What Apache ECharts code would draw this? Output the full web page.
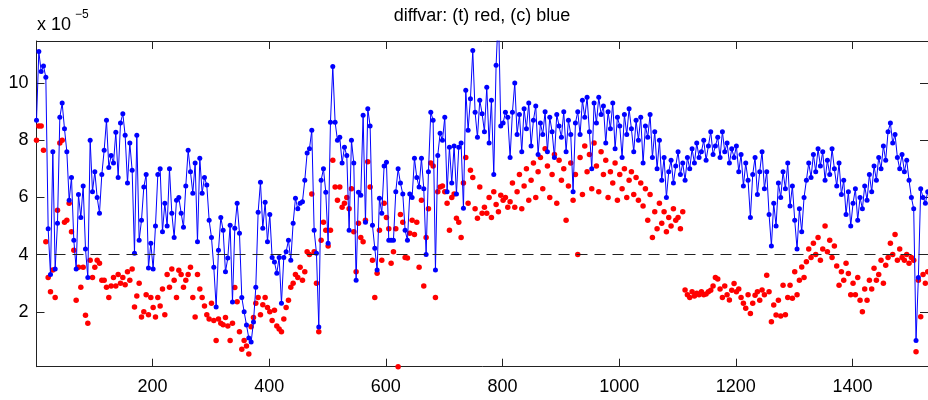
<!DOCTYPE html>
<html><head><meta charset="utf-8">
<script src="https://cdn.jsdelivr.net/npm/echarts@6/dist/echarts.min.js"></script>
<style>html,body{margin:0;padding:0;background:#fff}#c{width:928px;height:400px}</style>
</head><body><div id="c"></div>
<script>
// sample positions: x = xStart + xStep * index
const xStart = 1, xStep = 4;

// (c) blue series, units of 1e-5
const blueC = [
  8.7, 11.1, 10.4, 10.6, 10.2, 4.9, 3.3, 7.6, 3.5, 5.1, 8.8, 9.3, 8.4, 7.6, 5.9, 6.7, 4.5, 3.5, 6.1, 5.3, 6.4, 4.2, 3.2, 8.0, 6.2,
  6.9, 6.0, 5.45, 6.8, 7.65, 8.7, 7.05, 7.47, 7.2, 8.28, 6.7, 8.6, 8.93, 8.17, 6.5, 7.9, 6.95, 4.05, 8.17, 4.5, 5.2, 6.36, 6.8, 3.53, 4.4,
  3.5, 5.0, 6.8, 7.0, 4.8, 5.8, 5.0, 7.0, 5.45, 4.6, 5.9, 6.0, 5.45, 4.96, 6.4, 7.65, 6.9, 6.15, 7.2, 4.45, 7.37, 6.15, 6.7, 6.43, 5.2,
  4.6, 3.56, 2.17, 4.15, 5.3, 4.85, 3.4, 3.88, 5.03, 2.34, 4.92, 5.8, 4.75, 2.5, 2.0, 1.54, 1.08, 0.94, 1.64, 2.86, 5.48, 6.53, 4.92, 5.83, 4.45,
  5.4, 3.9, 3.74, 3.35, 3.9, 2.3, 3.9, 4.1, 4.5, 3.8, 5.1, 5.97, 5.6, 5.8, 5.85, 6.6, 7.55, 7.7, 8.35, 4.85, 4.05, 1.47, 6.6, 7.0, 6.18,
  4.4, 8.63, 10.58, 8.63, 8.0, 8.1, 7.2, 7.75, 7.47, 4.85, 8.0, 7.2, 3.1, 6.18, 6.08, 8.87, 5.13, 9.1, 8.5, 5.03, 4.22, 3.46, 5.97, 5.45, 7.1,
  7.23, 4.5, 4.5, 4.5, 6.2, 7.0, 6.5, 6.12, 4.85, 4.5, 6.12, 6.0, 7.37, 6.7, 6.36, 7.37, 6.3, 4.0, 6.9, 8.98, 8.7, 3.46, 7.47, 8.24, 8.0,
  8.8, 6.2, 7.75, 6.5, 7.8, 6.12, 7.75, 7.9, 5.62, 9.75, 8.35, 9.45, 11.14, 8.98, 8.1, 9.4, 8.93, 8.3, 9.85, 7.9, 9.4, 6.8, 10.62, 12.5, 8.5,
  8.6, 8.98, 8.8, 7.4, 8.98, 10.0, 8.2, 8.9, 7.6, 9.1, 8.4, 9.3, 7.8, 8.7, 9.2, 7.5, 8.6, 8.2, 9.0, 7.6, 8.8, 8.3, 7.4, 8.9, 8.5,
  8.1, 9.0, 7.6, 8.7, 8.2, 6.2, 8.6, 9.0, 8.2, 9.4, 8.8, 9.5, 8.3, 7.0, 9.3, 8.6, 9.5, 8.9, 9.2, 7.9, 9.0, 8.4, 9.3, 7.7, 8.8,
  8.5, 7.4, 8.9, 8.2, 9.1, 8.4, 7.6, 8.7, 8.0, 8.8, 7.2, 8.5, 8.1, 8.9, 7.4, 8.3, 7.0, 8.0, 6.6, 7.4, 6.0, 6.9, 7.3, 6.5, 7.1,
  7.6, 6.8, 7.2, 6.6, 7.4, 7.0, 7.7, 7.2, 7.9, 7.4, 7.6, 8.0, 7.3, 7.8, 8.3, 7.5, 7.8, 8.1, 7.4, 8.3, 7.6, 7.9, 7.2, 7.7, 7.4,
  7.8, 6.9, 7.5, 6.4, 7.2, 6.6, 5.3, 6.8, 7.4, 6.1, 6.9, 7.6, 6.3, 6.9, 5.4, 4.3, 5.8, 5.0, 6.5, 6.0, 6.9, 6.3, 7.2, 5.7, 6.4,
  5.2, 4.2, 5.6, 4.8, 6.0, 6.6, 7.2, 6.7, 7.5, 6.9, 7.7, 7.1, 7.6, 6.6, 7.3, 6.8, 7.7, 7.0, 6.4, 7.2, 6.1, 6.6, 5.4, 6.2, 5.0,
  5.8, 6.3, 5.2, 6.0, 5.6, 6.4, 5.9, 6.8, 6.2, 7.1, 6.6, 7.4, 7.0, 7.8, 7.3, 8.3, 8.6, 7.9, 8.2, 7.4, 7.0, 7.5, 6.9, 7.3, 6.6,
  6.0, 5.6, 1.0, 3.2, 6.3, 6.0, 5.8, 6.2
];

// (t) red series, units of 1e-5
const redT = [
  8.0, 8.5, 8.5, 7.65, 4.45, 3.2, 2.7, 3.46, 2.5, 5.55, 7.9, 8.0, 5.13, 5.2, 5.8, 4.8, 4.15, 2.4, 3.56, 2.86, 3.56, 1.88, 1.6, 3.8, 3.2,
  3.56, 3.8, 3.7, 3.1, 3.1, 2.86, 2.5, 2.9, 3.2, 2.9, 3.3, 3.0, 3.2, 2.95, 3.4, 3.1, 3.5, 2.17, 2.55, 3.0, 1.82, 2.0, 2.6, 1.9, 2.5,
  2.15, 1.82, 2.5, 2.2, 2.8, 1.9, 3.3, 2.86, 3.5, 3.1, 2.5, 3.45, 3.3, 2.86, 3.1, 3.3, 3.56, 2.5, 1.82, 3.3, 2.8, 2.5, 2.2, 1.9, 1.75,
  2.3, 1.7, 1.0, 1.75, 1.6, 1.55, 1.8, 1.5, 1.0, 1.6, 2.85, 2.35, 1.3, 0.69, 1.0, 0.8, 0.52, 1.48, 1.8, 2.3, 2.5, 1.9, 2.25, 2.5, 2.15,
  2.0, 1.7, 2.05, 1.5, 1.4, 1.3, 1.75, 2.15, 2.4, 2.86, 3.0, 3.3, 3.2, 3.56, 3.1, 3.4, 4.1, 4.0, 6.12, 4.1, 3.0, 1.3, 4.5, 5.13, 4.85,
  4.3, 4.85, 7.3, 6.36, 5.9, 6.36, 5.66, 5.8, 6.0, 5.6, 6.3, 4.8, 3.4, 5.1, 4.6, 4.45, 5.2, 7.25, 6.36, 3.8, 2.5, 3.35, 4.85, 3.8, 5.8,
  5.3, 4.9, 3.7, 4.1, 4.9, 0.08, 5.4, 5.13, 3.9, 3.88, 4.75, 5.2, 4.7, 5.13, 3.56, 5.9, 2.9, 4.6, 5.6, 7.2, 7.1, 2.5, 6.2, 6.36, 6.4,
  6.2, 5.8, 4.85, 6.0, 6.12, 5.27, 5.13, 4.6, 6.5, 7.4, 5.8, 6.95, 6.7, 5.6, 5.27, 6.36, 5.45, 5.66, 5.45, 6.0, 5.3, 6.2, 5.75, 5.5, 6.08,
  5.9, 6.0, 5.66, 5.85, 6.5, 5.66, 6.2, 6.8, 5.6, 6.4, 7.0, 5.9, 6.6, 7.2, 6.0, 6.9, 7.4, 6.3, 7.7, 7.1, 6.0, 6.8, 7.5, 5.8, 7.3,
  6.6, 7.0, 5.2, 6.4, 7.2, 5.9, 6.8, 4.0, 7.4, 6.1, 7.8, 6.9, 7.5, 6.3, 7.9, 7.1, 6.2, 7.6, 6.8, 7.3, 6.0, 6.9, 6.5, 7.2, 5.9,
  6.8, 6.3, 7.0, 6.0, 6.6, 6.9, 6.1, 6.7, 5.9, 6.5, 5.7, 6.3, 5.2, 6.1, 4.6, 5.5, 4.9, 5.8, 5.1, 5.5, 4.8, 5.3, 5.0, 5.6, 5.2,
  5.3, 4.9, 5.5, 2.76, 2.6, 2.5, 2.7, 2.55, 2.65, 2.6, 2.7, 2.6, 2.62, 2.7, 2.75, 2.9, 3.2, 3.15, 2.8, 2.5, 2.9, 2.6, 2.41, 2.75, 2.99,
  2.7, 2.8, 2.5, 2.3, 2.12, 2.6, 1.94, 2.3, 2.58, 2.7, 2.4, 2.76, 2.6, 3.28, 2.7, 1.65, 2.24, 1.89, 2.4, 1.85, 2.93, 1.9, 2.5, 2.93, 2.47,
  3.4, 2.6, 3.1, 3.57, 3.2, 3.75, 4.2, 3.9, 4.4, 4.0, 4.6, 3.8, 4.2, 5.0, 4.1, 4.5, 3.9, 4.3, 3.6, 2.93, 3.4, 3.1, 3.7, 3.34, 2.6,
  3.0, 2.6, 3.2, 2.4, 2.0, 2.8, 2.4, 3.1, 2.8, 3.52, 3.1, 3.3, 3.8, 3.0, 3.63, 3.9, 4.4, 4.0, 4.7, 3.8, 4.2, 3.9, 3.8, 4.0, 3.7,
  3.9, 3.8, 0.6, 3.1, 1.83, 3.3, 3.0, 3.4
];

const xTicks = [200, 400, 600, 800, 1000, 1200, 1400];
const yTicks = [2, 4, 6, 8, 10];
const refLevel = 4;
const xRange = [1, 1529.5];
const yRange = [0.08, 11.47];
const titleText = 'diffvar: (t) red, (c) blue';

const FONT = '"Liberation Sans", Arial, Helvetica, sans-serif';
const xs = blueC.map((_, i) => xStart + xStep * i);
const blueData = xs.map((x, i) => [x, blueC[i]]);
const redData = xs.map((x, i) => [x, redT[i]]);

const axisLine = { show: true, onZero: false, lineStyle: { color: '#222', width: 1 } };
function xAxis(pos, labels) {
  return {
    type: 'value', position: pos, min: xRange[0], max: xRange[1],
    axisLine: axisLine,
    axisTick: { show: true, inside: true, length: 8, customValues: xTicks, lineStyle: { color: '#222' } },
    axisLabel: { show: labels, customValues: xTicks, formatter: v => String(v), fontSize: 18, fontFamily: FONT, color: '#000', margin: 11 },
    splitLine: { show: false }
  };
}
function yAxis(pos, labels) {
  return {
    type: 'value', position: pos, min: yRange[0], max: yRange[1],
    axisLine: axisLine,
    axisTick: { show: true, inside: true, length: 8, customValues: yTicks, lineStyle: { color: '#222' } },
    axisLabel: { show: labels, customValues: yTicks, formatter: v => String(v), fontSize: 18, fontFamily: FONT, color: '#000', margin: 8 },
    splitLine: { show: false }
  };
}

const chart = echarts.init(document.getElementById('c'), null, { renderer: 'canvas' });
chart.setOption({
  animation: false,
  backgroundColor: '#fff',
  grid: { left: 36.5, top: 41, width: 891.5, height: 325.7, containLabel: false, outerBoundsMode: 'none' },
  xAxis: [xAxis('bottom', true), xAxis('top', false)],
  yAxis: [yAxis('left', true), yAxis('right', false)],
  graphic: [
    { type: 'text', x: 482, y: 16.5, style: { text: titleText, fontSize: 18, fontFamily: FONT, fill: '#000', align: 'center', verticalAlign: 'middle' } },
    { type: 'text', x: 37, y: 25, style: { text: 'x 10', fontSize: 18, fontFamily: FONT, fill: '#000', align: 'left', verticalAlign: 'middle' } },
    { type: 'text', x: 75, y: 15, style: { text: '\u22125', fontSize: 12, fontFamily: FONT, fill: '#000', align: 'left', verticalAlign: 'middle' } }
  ],
  series: [
    {
      type: 'scatter', name: 't', data: redData, xAxisIndex: 0, yAxisIndex: 0,
      symbol: 'circle', symbolSize: 5.5, itemStyle: { color: '#ff0000', opacity: 1 },
      markLine: {
        silent: true, symbol: ['none', 'none'], label: { show: false },
        lineStyle: { color: '#222', width: 1, type: [11, 7] },
        data: [{ yAxis: refLevel }]
      }
    },
    {
      type: 'line', name: 'c', data: blueData, xAxisIndex: 0, yAxisIndex: 0,
      showSymbol: true, showAllSymbol: true, symbol: 'circle', symbolSize: 5,
      itemStyle: { color: '#0000ff', opacity: 1 }, lineStyle: { color: '#0000ff', width: 1 },
      clip: true
    }
  ]
});
</script>
</body></html>
